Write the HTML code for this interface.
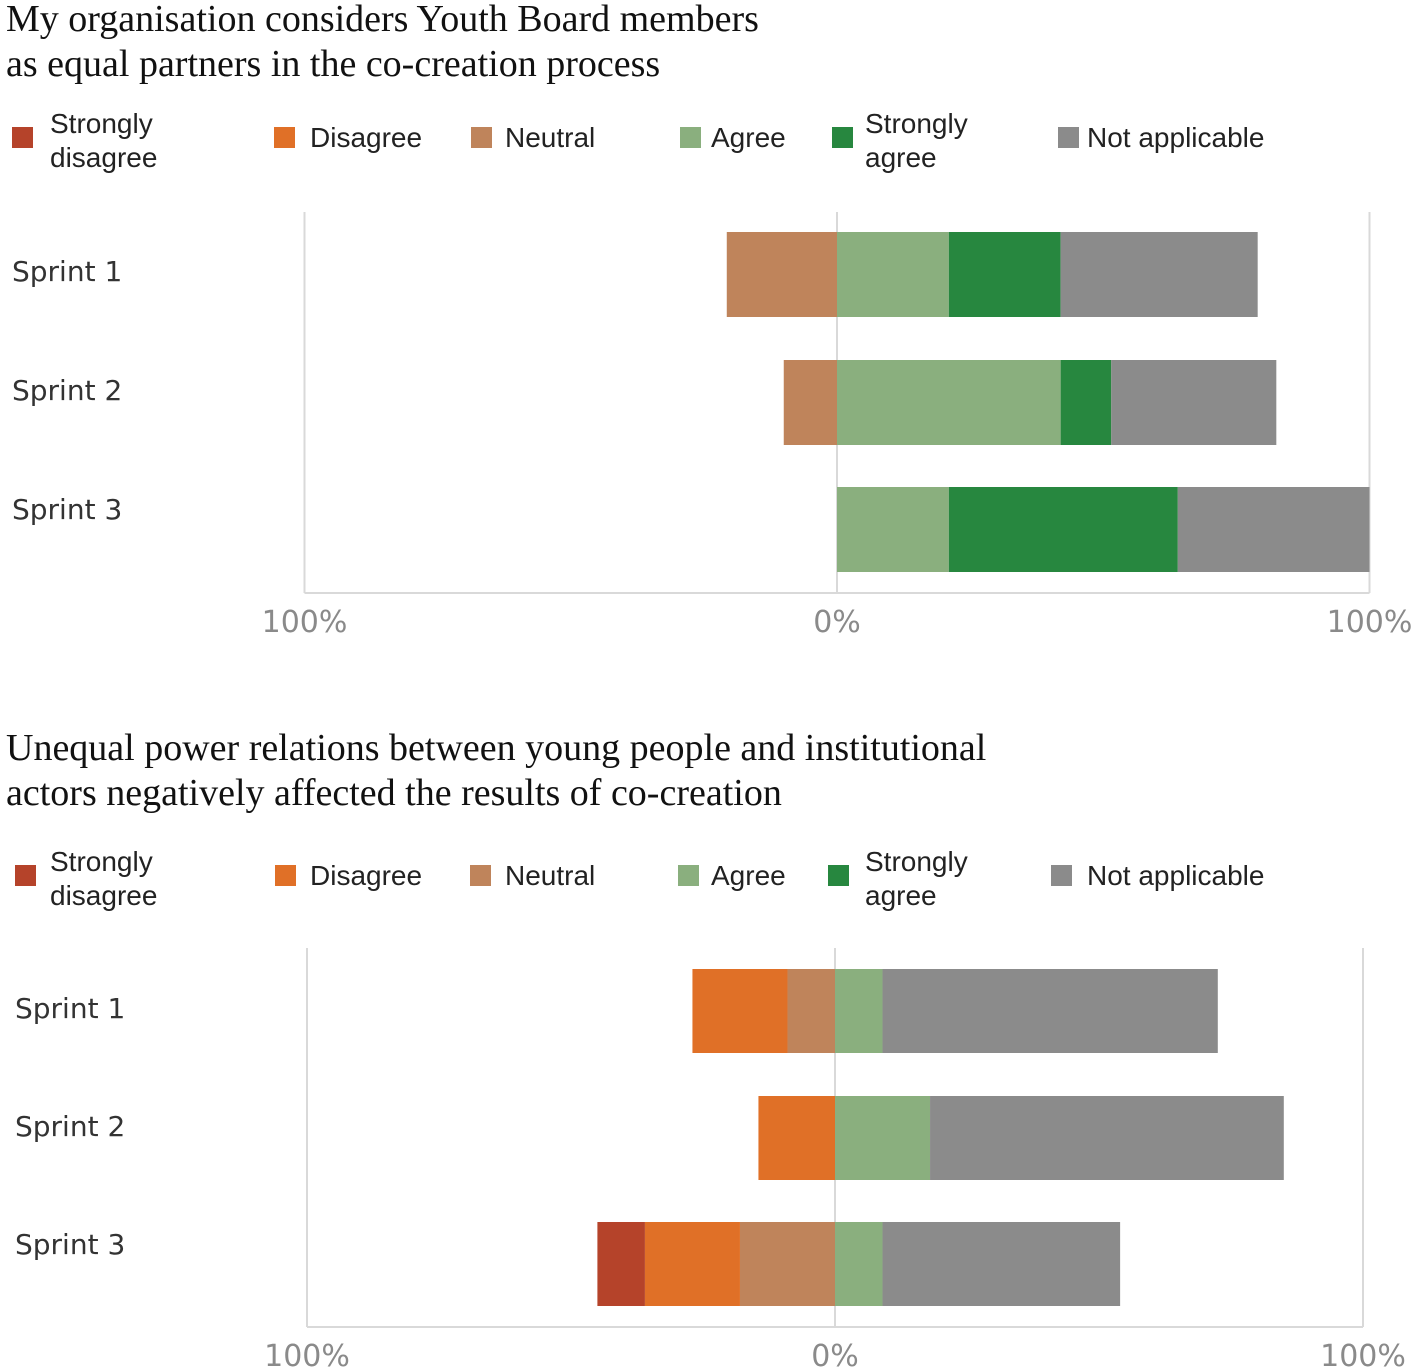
<!DOCTYPE html>
<html><head><meta charset="utf-8">
<style>
html,body{margin:0;padding:0;background:#fff;}
svg{display:block;}
.title{font-family:"Liberation Serif",serif;font-size:38px;fill:#111;}
.leg{font-family:"Liberation Sans",sans-serif;font-size:28px;fill:#222;}
.cat{font-family:"DejaVu Sans","Liberation Sans",sans-serif;font-size:28px;fill:#333;}
.tick{font-family:"DejaVu Sans","Liberation Sans",sans-serif;font-size:30px;fill:#8a8a8a;}
</style></head>
<body>
<svg id="s" width="1417" height="1372" viewBox="0 0 1417 1372" xmlns="http://www.w3.org/2000/svg"></svg>
<script>
const categories = ["Sprint 1","Sprint 2","Sprint 3"];
const seriesNames = ["Strongly disagree","Disagree","Neutral","Agree","Strongly agree","Not applicable"];
const colors = ["#b5432a","#e07027","#bf845b","#8aaf7e","#27873f","#8b8b8b"];
const tickLabels = ["100%","0%","100%"];
// chart 1 values (percent): SD, D, N, A, SA, NA
const c1SD = [0,0,0];
const c1D  = [0,0,0];
const c1N  = [20.7,10,0];
const c1A  = [21,42,21];
const c1SA = [21,9.5,43];
const c1NA = [37,31,36];
// chart 2 values
const c2SD = [0,0,9];
const c2D  = [18,14.5,18];
const c2N  = [9,0,18];
const c2A  = [9,18,9];
const c2SA = [0,0,0];
const c2NA = [63.5,67,45];

const NS="http://www.w3.org/2000/svg";
const svg=document.getElementById('s');
function mk(tag,attrs,parent){const e=document.createElementNS(NS,tag);for(const k in attrs)e.setAttribute(k,attrs[k]);(parent||svg).appendChild(e);return e;}

function chart(cfg){
  const g=mk('g',{});
  
  
  cfg.titleLines.forEach((t,i)=>{
    const tx=mk('text',{x:6,y:cfg.titleY+i*45,class:'title'},g);tx.textContent=t;
    
    
  });
  const legText=[["Strongly","disagree"],["Disagree"],["Neutral"],["Agree"],["Strongly","agree"],["Not applicable"]];
  legText.forEach((lines,i)=>{
    const lg=mk('g',{},g);
    
    
    mk('rect',{x:cfg.legSq[i],y:cfg.legY-10,width:21,height:21,fill:colors[i]},lg);
    lines.forEach((l,j)=>{
      const y = lines.length===1 ? cfg.legY+10 : cfg.legY-4+j*34;
      const t=mk('text',{x:cfg.legTx[i],y:y,class:'leg'},lg);t.textContent=l;
    });
  });
  const x=v=>cfg.x0+v*cfg.scale;
  [-100,0,100].forEach((v,i)=>{
    const l=mk('line',{x1:x(v),x2:x(v),y1:cfg.top,y2:cfg.axisY,stroke:'#d9d9d9','stroke-width':2},g);
    
    
    const t=mk('text',{x:x(v),y:cfg.axisY+39,class:'tick','text-anchor':'middle'},g);t.textContent=tickLabels[i];
    
    
  });
  const ax=mk('line',{x1:x(-100),x2:x(100),y1:cfg.axisY,y2:cfg.axisY,stroke:'#d9d9d9','stroke-width':2},g);
  
  
  const d=cfg.data;
  categories.forEach((c,i)=>{
    const y=cfg.barY[i];
    const t=mk('text',{x:cfg.catX,y:cfg.labY[i]+10,class:'cat'},g);t.textContent=c;
    
    
    let neg=0;
    [2,1,0].forEach(k=>{
      const v=d[k][i];if(!v)return;
      const r=mk('rect',{x:x(-(neg+v)),y:y,width:v*cfg.scale,height:cfg.barH,fill:colors[k]},g);
      
      
      neg+=v;
    });
    let pos=0;
    [3,4,5].forEach(k=>{
      const v=d[k][i];if(!v)return;
      const r=mk('rect',{x:x(pos),y:y,width:v*cfg.scale,height:cfg.barH,fill:colors[k]},g);
      
      
      pos+=v;
    });
  });
}
chart({name:'chart-equal-partners',titleLines:["My organisation considers Youth Board members","as equal partners in the co-creation process"],titleY:31,
  legY:137,legSq:[12,274,471,680,832,1058],legTx:[50,310,505,711,865,1087],
  x0:837,scale:5.325,top:212,axisY:593,barY:[232,360,487],barH:85,catX:12,labY:[271,390,509],
  data:[c1SD,c1D,c1N,c1A,c1SA,c1NA]});
chart({name:'chart-unequal-power',titleLines:["Unequal power relations between young people and institutional","actors negatively affected the results of co-creation"],titleY:760,
  legY:875,legSq:[15,275,470,678,828,1051],legTx:[50,310,505,711,865,1087],
  x0:835,scale:5.28,top:948,axisY:1327,barY:[969,1096,1222],barH:84,catX:15,labY:[1008,1126,1244],
  data:[c2SD,c2D,c2N,c2A,c2SA,c2NA]});
</script>
</body></html>
